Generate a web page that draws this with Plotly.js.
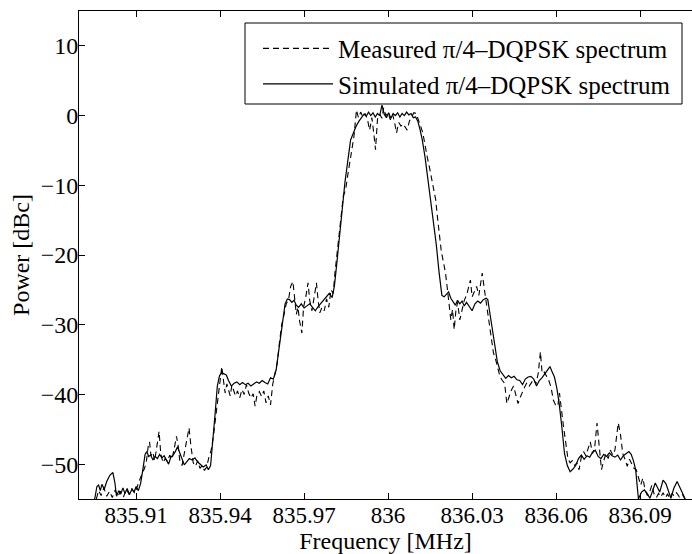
<!DOCTYPE html>
<html>
<head>
<meta charset="utf-8">
<script src="https://cdn.plot.ly/plotly-3.0.1.min.js"></script>
<style>
html,body{margin:0;padding:0;background:#fff;overflow:hidden;}
#chart{width:692px;height:554px;}
</style>
</head>
<body>
<div id="chart"></div>
<script>
// Simulated pi/4-DQPSK spectrum (solid)
const simFreq = [
835.8952,835.8960,835.8966,835.8972,835.8978,835.8986,835.8995,835.9006,835.9017,835.9024,
835.9030,835.9038,835.9045,835.9053,835.9060,835.9068,835.9076,835.9085,835.9093,835.9100,
835.9108,835.9116,835.9124,835.9132,835.9138,835.9145,835.9152,835.9160,835.9168,835.9176,
835.9184,835.9192,835.9200,835.9208,835.9216,835.9224,835.9232,835.9240,835.9248,835.9256,
835.9264,835.9272,835.9280,835.9290,835.9300,835.9310,835.9320,835.9330,835.9340,835.9350,
835.9358,835.9366,835.9374,835.9382,835.9390,835.9398,835.9406,835.9414,835.9422,835.9430,
835.9440,835.9450,835.9460,835.9470,835.9480,835.9490,835.9500,835.9510,835.9520,835.9530,
835.9540,835.9550,835.9560,835.9570,835.9580,835.9590,835.9600,835.9608,835.9616,835.9624,
835.9632,835.9640,835.9648,835.9656,835.9664,835.9672,835.9680,835.9690,835.9700,835.9710,
835.9720,835.9730,835.9740,835.9750,835.9760,835.9770,835.9780,835.9790,835.9800,835.9808,
835.9816,835.9826,835.9836,835.9846,835.9856,835.9866,835.9876,835.9886,835.9896,835.9906,
835.9914,835.9922,835.9930,835.9938,835.9946,835.9954,835.9962,835.9970,835.9978,835.9986,
835.9994,836.0002,836.0010,836.0018,836.0026,836.0034,836.0042,836.0050,836.0058,836.0066,
836.0074,836.0082,836.0090,836.0098,836.0106,836.0114,836.0122,836.0132,836.0142,836.0152,
836.0162,836.0172,836.0182,836.0192,836.0200,836.0208,836.0216,836.0224,836.0232,836.0240,
836.0248,836.0256,836.0264,836.0272,836.0280,836.0290,836.0300,836.0310,836.0320,836.0330,
836.0340,836.0350,836.0356,836.0364,836.0372,836.0380,836.0390,836.0400,836.0410,836.0420,
836.0430,836.0440,836.0450,836.0460,836.0470,836.0480,836.0490,836.0500,836.0510,836.0520,
836.0530,836.0540,836.0550,836.0560,836.0570,836.0578,836.0586,836.0594,836.0602,836.0610,
836.0620,836.0630,836.0640,836.0650,836.0660,836.0670,836.0680,836.0690,836.0700,836.0710,
836.0720,836.0730,836.0740,836.0750,836.0760,836.0770,836.0780,836.0790,836.0800,836.0810,
836.0820,836.0830,836.0840,836.0850,836.0860,836.0868,836.0876,836.0884,836.0894,836.0905,
836.0915,836.0925,836.0935,836.0945,836.0954,836.0970,836.0982,836.0992,836.1002,836.1010,
836.1020,836.1032,836.1045,836.1061
];
const simPower = [
-55.0,-53.2,-53.0,-53.8,-52.9,-53.6,-52.5,-51.6,-51.2,-52.6,
-54.6,-53.8,-54.3,-53.4,-54.2,-53.5,-54.4,-53.6,-54.0,-53.2,
-53.8,-52.8,-50.8,-48.6,-48.2,-48.9,-48.7,-49.4,-48.9,-49.2,
-48.6,-49.1,-48.8,-49.5,-50.0,-49.0,-48.7,-48.2,-47.5,-48.4,
-49.2,-50.1,-49.7,-49.2,-49.4,-49.1,-49.7,-50.0,-50.4,-50.1,
-50.8,-50.2,-47.0,-42.8,-38.8,-37.3,-36.9,-37.0,-37.2,-38.0,
-38.8,-38.4,-38.2,-38.6,-38.3,-38.6,-38.4,-38.8,-38.5,-38.2,
-38.4,-38.0,-38.3,-38.5,-37.6,-37.8,-36.5,-34.2,-31.5,-29.0,
-27.0,-26.3,-26.4,-26.8,-26.5,-27.2,-27.5,-27.0,-27.6,-27.3,
-27.0,-27.5,-28.0,-27.4,-26.9,-26.4,-26.0,-25.5,-26.1,-24.5,
-21.5,-17.5,-13.0,-9.5,-6.5,-3.5,-2.5,-1.5,-0.8,-0.3,
0.2,-0.1,0.5,0.0,0.4,-0.2,0.3,0.0,1.5,0.2,
-0.3,0.4,-0.4,0.3,0.0,0.4,-0.2,0.3,0.0,0.5,
0.1,0.3,-0.3,-0.2,-0.8,-2.0,-3.5,-6.0,-9.0,-12.0,
-15.0,-18.5,-22.5,-25.8,-26.0,-25.6,-25.3,-26.2,-26.8,-27.2,
-26.5,-27.0,-26.6,-27.3,-26.8,-27.4,-28.0,-27.0,-26.6,-26.9,
-26.4,-26.2,-26.4,-28.5,-30.8,-33.0,-35.3,-36.6,-37.2,-37.7,
-37.3,-37.6,-37.4,-37.9,-38.0,-38.6,-37.8,-37.5,-37.4,-37.8,
-38.8,-38.0,-37.6,-37.0,-36.4,-36.0,-36.8,-37.5,-39.0,-41.0,
-44.5,-48.5,-50.2,-51.1,-50.7,-50.2,-49.2,-48.7,-49.3,-48.8,
-49.0,-48.3,-48.0,-48.9,-49.2,-48.6,-48.9,-48.4,-48.8,-49.0,
-48.7,-49.4,-48.8,-48.5,-48.2,-48.6,-49.5,-50.8,-55.0,-54.0,
-53.7,-54.2,-54.9,-53.8,-52.7,-54.0,-52.3,-52.8,-54.0,-54.9,
-53.5,-52.5,-53.6,-55.0
];

// Measured pi/4-DQPSK spectrum (dashed)
const measFreq = [
835.8958,835.8966,835.8975,835.8985,835.8995,835.9005,835.9015,835.9025,835.9035,835.9045,
835.9055,835.9065,835.9075,835.9085,835.9095,835.9105,835.9115,835.9122,835.9130,835.9137,
835.9143,835.9148,835.9153,835.9160,835.9166,835.9172,835.9178,835.9182,835.9188,835.9196,
835.9204,835.9212,835.9220,835.9228,835.9236,835.9244,835.9250,835.9256,835.9264,835.9272,
835.9280,835.9289,835.9296,835.9304,835.9312,835.9320,835.9328,835.9336,835.9344,835.9352,
835.9360,835.9368,835.9376,835.9384,835.9392,835.9400,835.9406,835.9412,835.9418,835.9424,
835.9430,835.9436,835.9442,835.9448,835.9455,835.9462,835.9470,835.9478,835.9486,835.9494,
835.9502,835.9510,835.9518,835.9525,835.9532,835.9540,835.9548,835.9556,835.9564,835.9572,
835.9580,835.9588,835.9596,835.9604,835.9612,835.9620,835.9628,835.9636,835.9644,835.9652,
835.9660,835.9666,835.9672,835.9678,835.9684,835.9692,835.9698,835.9706,835.9714,835.9720,
835.9728,835.9736,835.9744,835.9750,835.9756,835.9764,835.9772,835.9780,835.9788,835.9796,
835.9804,835.9810,835.9817,835.9824,835.9832,835.9840,835.9848,835.9856,835.9864,835.9870,
835.9878,835.9887,835.9894,835.9902,835.9910,835.9918,835.9926,835.9934,835.9942,835.9950,
835.9955,835.9962,835.9970,835.9978,835.9984,835.9992,836.0000,836.0008,836.0016,836.0024,
836.0030,836.0038,836.0046,836.0054,836.0062,836.0068,836.0076,836.0084,836.0092,836.0100,
836.0108,836.0116,836.0124,836.0132,836.0140,836.0148,836.0156,836.0164,836.0170,836.0176,
836.0182,836.0190,836.0198,836.0205,836.0212,836.0218,836.0224,836.0230,836.0236,836.0242,
836.0248,836.0256,836.0264,836.0272,836.0280,836.0288,836.0294,836.0300,836.0308,836.0316,
836.0324,836.0330,836.0336,836.0344,836.0352,836.0360,836.0368,836.0376,836.0384,836.0392,
836.0400,836.0408,836.0416,836.0424,836.0432,836.0440,836.0448,836.0456,836.0464,836.0472,
836.0480,836.0488,836.0496,836.0504,836.0512,836.0520,836.0528,836.0536,836.0544,836.0550,
836.0558,836.0566,836.0574,836.0582,836.0590,836.0598,836.0606,836.0612,836.0618,836.0626,
836.0634,836.0642,836.0650,836.0658,836.0666,836.0674,836.0682,836.0690,836.0698,836.0706,
836.0714,836.0722,836.0730,836.0738,836.0746,836.0754,836.0762,836.0770,836.0778,836.0786,
836.0794,836.0802,836.0810,836.0816,836.0822,836.0830,836.0838,836.0846,836.0854,836.0862,
836.0870,836.0878,836.0886,836.0894,836.0902,836.0910,836.0918,836.0926,836.0934,836.0942,
836.0950,836.0958,836.0966,836.0974,836.0982,836.0990,836.0998,836.1006,836.1014,836.1022,
836.1030,836.1040,836.1050,836.1060
];
const measPower = [
-55.0,-53.8,-54.5,-53.4,-54.6,-53.9,-54.8,-53.7,-54.6,-53.9,
-54.7,-53.6,-54.3,-53.5,-54.2,-53.0,-52.0,-51.3,-50.6,-49.5,
-47.5,-46.8,-48.8,-48.3,-49.5,-48.0,-46.5,-45.3,-48.5,-49.8,
-49.2,-49.6,-48.7,-49.3,-47.8,-46.0,-47.3,-49.5,-50.2,-48.5,
-46.5,-44.8,-47.5,-49.8,-50.3,-49.5,-50.6,-50.2,-50.9,-50.4,
-49.0,-48.0,-46.0,-43.5,-41.0,-38.5,-36.0,-38.0,-39.8,-38.5,
-39.2,-40.2,-38.7,-39.5,-40.2,-39.5,-40.5,-39.3,-40.0,-38.6,
-39.8,-40.5,-39.9,-41.7,-40.0,-39.6,-40.3,-39.5,-41.2,-40.2,
-41.5,-38.5,-37.0,-35.5,-32.5,-30.0,-28.6,-27.0,-26.5,-24.5,
-23.8,-26.0,-28.5,-27.5,-29.5,-31.2,-27.5,-26.0,-24.0,-26.5,
-28.0,-26.0,-24.0,-26.5,-28.3,-27.5,-28.0,-26.3,-27.5,-25.0,
-25.5,-22.6,-19.7,-17.4,-14.5,-11.5,-10.7,-8.5,-6.5,-4.5,
-3.0,0.8,-0.3,0.5,-0.2,0.3,-0.5,-2.1,-0.3,-3.0,
-4.9,-0.5,0.2,-0.4,1.1,0.0,0.4,-0.6,0.2,-1.2,
-2.5,-1.0,-1.5,-1.2,-1.8,-2.1,-0.8,-0.2,0.4,0.3,
-0.5,-1.5,-2.5,-4.5,-6.0,-7.5,-9.2,-11.0,-12.1,-14.5,
-16.4,-19.5,-21.1,-22.6,-25.0,-27.4,-29.3,-27.8,-30.7,-28.0,
-26.8,-29.3,-28.0,-26.5,-25.8,-24.5,-23.6,-26.0,-25.2,-24.5,
-25.8,-24.2,-22.6,-25.0,-27.4,-29.3,-31.7,-34.0,-35.0,-36.5,
-37.5,-38.0,-38.4,-41.3,-40.2,-39.4,-38.8,-40.0,-41.3,-40.4,
-39.6,-38.9,-38.3,-38.8,-38.3,-37.8,-38.5,-37.0,-33.9,-37.0,
-36.8,-37.5,-38.0,-39.0,-40.8,-41.5,-41.7,-39.8,-42.0,-44.5,
-46.8,-49.2,-49.8,-49.5,-50.2,-49.8,-50.8,-49.0,-48.2,-48.8,
-47.8,-46.8,-48.5,-47.5,-44.1,-47.5,-50.8,-49.5,-48.5,-49.2,
-48.0,-48.7,-48.0,-46.0,-44.1,-45.8,-48.5,-49.3,-50.3,-49.3,
-50.0,-50.6,-50.8,-52.0,-53.0,-52.0,-53.8,-54.5,-54.0,-53.0,
-54.3,-54.8,-54.2,-54.7,-54.1,-54.8,-54.3,-54.9,-54.2,-54.6,
-54.1,-54.7,-54.3,-55.0
];

const xTickVals = [835.91, 835.94, 835.97, 836.00, 836.03, 836.06, 836.09];
const xTickText = ['835.91', '835.94', '835.97', '836', '836.03', '836.06', '836.09'];
const yTickVals = [-50, -40, -30, -20, -10, 0, 10];
const seriesNames = ['Measured \u03c0/4\u2013DQPSK spectrum', 'Simulated \u03c0/4\u2013DQPSK spectrum'];

const serif = '"Liberation Serif", "Times New Roman", Times, serif';

const traces = [
  {x: measFreq, y: measPower, name: seriesNames[0], type: 'scatter', mode: 'lines',
   line: {color: '#000', width: 1.1, dash: '6px,4px'}},
  {x: simFreq, y: simPower, name: seriesNames[1], type: 'scatter', mode: 'lines',
   line: {color: '#000', width: 1.2}}
];

const layout = {
  width: 692, height: 554,
  margin: {l: 79, r: 0, t: 11, b: 55, pad: 0},
  paper_bgcolor: '#fff', plot_bgcolor: '#fff',
  font: {family: serif, size: 24, color: '#000'},
  showlegend: true,
  legend: {
    x: 0.292, xanchor: 'left', y: 0.970, yanchor: 'top',
    bgcolor: 'rgba(0,0,0,0)', borderwidth: 0,
    font: {family: serif, size: 25, color: '#000'},
    tracegroupgap: 0, itemwidth: 70
  },
  shapes: [
    {type: 'rect', xref: 'paper', yref: 'paper',
     x0: 0.2708, x1: 0.9837, y0: 0.8094, y1: 0.9754,
     line: {color: '#000', width: 1}, fillcolor: 'rgba(0,0,0,0)', layer: 'above'}
  ],
  xaxis: {
    range: [835.8896, 836.10853],
    tickmode: 'array', tickvals: xTickVals, ticktext: xTickText,
    ticks: 'inside', ticklen: 6, tickwidth: 1, tickcolor: '#000',
    showline: true, linecolor: '#000', linewidth: 1, mirror: 'ticks',
    showgrid: false, zeroline: false, ticklabelstandoff: -5,
    tickfont: {family: serif, size: 23, color: '#000'},
    title: {text: 'Frequency [MHz]', font: {family: serif, size: 24, color: '#000'}, standoff: 6}
  },
  yaxis: {
    range: [-55, 15],
    tickmode: 'array', tickvals: yTickVals,
    ticks: 'inside', ticklen: 6, tickwidth: 1, tickcolor: '#000',
    showline: true, linecolor: '#000', linewidth: 1, mirror: false,
    showgrid: false, zeroline: false, ticklabelstandoff: -5,
    tickfont: {family: serif, size: 24, color: '#000'},
    title: {text: 'Power [dBc]', font: {family: serif, size: 24, color: '#000'}, standoff: 4}
  }
};

Plotly.newPlot('chart', traces, layout, {displayModeBar: false, staticPlot: true});
</script>
</body>
</html>
